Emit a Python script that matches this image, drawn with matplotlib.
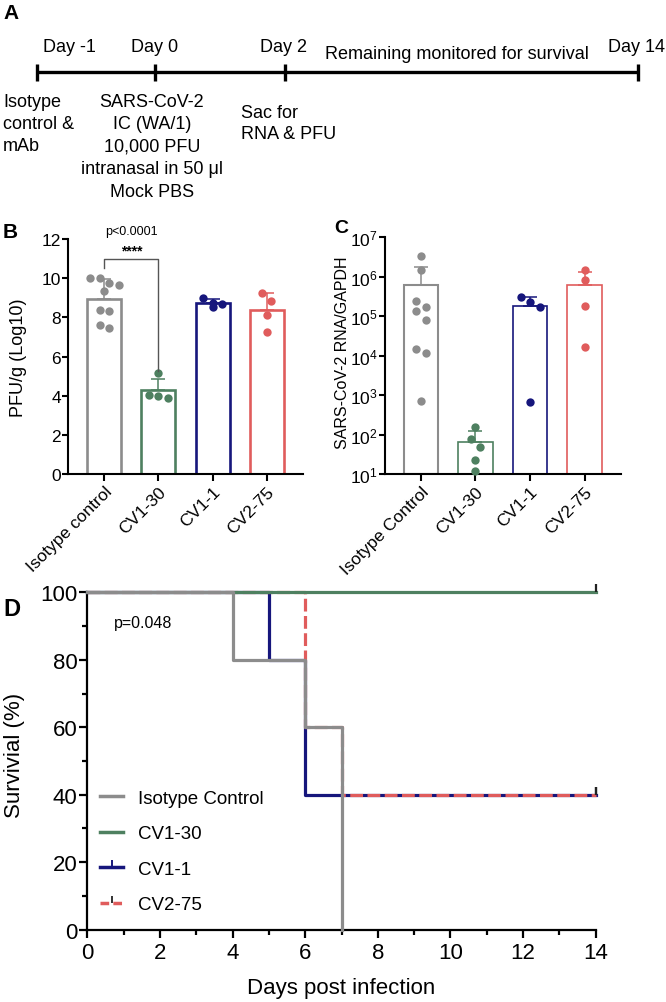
import numpy as np
import matplotlib
matplotlib.use("Agg")
import matplotlib.pyplot as plt
from matplotlib.lines import Line2D
from matplotlib.ticker import MultipleLocator, NullLocator

plt.rcParams['font.family'] = ['Liberation Sans', 'DejaVu Sans']
plt.rcParams['mathtext.fontset'] = 'custom'
plt.rcParams['mathtext.rm'] = 'Liberation Sans'
plt.rcParams['mathtext.it'] = 'Liberation Sans:italic'

# ---------------- data ----------------
timeline_days = ["Day -1", "Day 0", "Day 2", "Day 14"]
timeline_note = "Remaining monitored for survival"
note_day_m1 = ["Isotype", "control &", "mAb"]
note_day_0 = ["SARS-CoV-2", "IC (WA/1)", "10,000 PFU", "intranasal in 50 \u03bcl", "Mock PBS"]
note_day_2 = ["Sac for", "RNA & PFU"]

groups_B = ["Isotype control", "CV1-30", "CV1-1", "CV2-75"]
pfu_iso = [9.75, 9.99, 9.65, 10.03, 9.35, 8.32, 8.36, 7.44, 7.61]
pfu_cv130 = [3.90, 4.03, 3.97, 5.16]
pfu_cv11 = [9.00, 8.75, 8.68, 8.51]
pfu_cv275 = [9.23, 8.82, 8.12, 7.24]

groups_C = ["Isotype Control", "CV1-30", "CV1-1", "CV2-75"]
rna_iso = [3.4e6, 1.48e6, 2.5e5, 1.7e5, 1.35e5, 7.9e4, 1.5e4, 1.15e4, 7.2e2]
rna_cv130 = [158, 76, 47, 22, 12]
rna_cv11 = [3.0e5, 2.3e5, 1.74e5, 6.8e2]
rna_cv275 = [1.5e6, 8.3e5, 1.86e5, 1.66e4]

surv_labels = ["Isotype Control", "CV1-30", "CV1-1", "CV2-75"]
days_iso, surv_iso, end_iso = [0, 4, 6, 7], [100, 80, 60, 0], 7
days_cv130, surv_cv130, end_cv130 = [0], [100], 14
days_cv11, surv_cv11, end_cv11 = [0, 5, 6], [100, 80, 40], 14
days_cv275, surv_cv275, end_cv275 = [0, 6, 7], [100, 60, 40], 14
p_B = "p<0.0001"
stars_B = "****"
p_D = "p=0.048"

colors = ["#8c8c8c", "#4e8060", "#16167c", "#e05c5c"]

W, H = 666, 1003
fig = plt.figure(figsize=(W / 100, H / 100), dpi=100)


def rect(l, t, r, b):
    return [l / W, 1 - b / H, (r - l) / W, (b - t) / H]


def swarm(ax, xc, vals, d_px):
    """GraphPad-like layout: bin points vertically, spread each bin symmetrically."""
    vals = np.asarray(vals, dtype=float)
    pts = ax.transData.transform(np.column_stack([np.full(len(vals), xc), vals]))
    ypx = pts[:, 1]
    order = list(np.argsort(-ypx))
    offs = np.zeros(len(vals))
    bins = []
    for i in order:
        if bins and abs(ypx[bins[-1][0]] - ypx[i]) < d_px:
            bins[-1].append(i)
        else:
            bins.append([i])
    for b in bins:
        n = len(b)
        for k, i in enumerate(b):
            offs[i] = (k - (n - 1) / 2) * d_px
    sx = ax.transData.transform([(1, 1)])[0][0] - ax.transData.transform([(0, 1)])[0][0]
    return xc + offs / sx


def style_bar_axes(ax):
    for s in ["top", "right"]:
        ax.spines[s].set_visible(False)
    for s in ["left", "bottom"]:
        ax.spines[s].set_linewidth(1.5)
    ax.tick_params(axis="both", width=1.5, length=4, labelsize=12.5, pad=1)
    ax.tick_params(axis="x", length=5, pad=2)


# ---------------- panel B ----------------
axB = fig.add_axes(rect(68, 240, 303, 475))
axB.set_xlim(-0.67, 3.67)
axB.set_ylim(0, 12)
style_bar_axes(axB)
data_B = [pfu_iso, pfu_cv130, pfu_cv11, pfu_cv275]
for i, vals in enumerate(data_B):
    m, sd = np.mean(vals), np.std(vals, ddof=1)
    axB.bar(i, m, width=0.63, facecolor="white", edgecolor=colors[i], linewidth=1.9, zorder=1)
    axB.errorbar(i, m, yerr=[[0], [sd]], color=colors[i], lw=1.1, capsize=5, capthick=1.1, zorder=2)
for i, vals in enumerate(data_B):
    xs = swarm(axB, i, vals, 9.5)
    axB.scatter(xs, vals, s=36, color=colors[i], zorder=3, linewidths=0, clip_on=False)
axB.set_yticks(range(0, 13, 2))
axB.set_xticks(range(4))
axB.set_xticklabels(groups_B, rotation=45, ha="right", va="top", rotation_mode="anchor")
axB.set_ylabel("PFU/g (Log10)", fontsize=13)
axB.yaxis.set_label_coords(-0.21, 0.5)
axB.yaxis.label.set_va("center")
# significance bracket
axB.plot([0, 0, 1, 1], [10.5, 10.98, 10.98, 5.28], color="#555555", lw=1.0, clip_on=False, zorder=4)
axB.text(0.5, 11.4, stars_B, ha="center", va="center", fontsize=10, fontweight="bold")
axB.text(0.5, 12.43, p_B, ha="center", va="center", fontsize=9)

# ---------------- panel C ----------------
axC = fig.add_axes(rect(384.7, 238.3, 621.3, 475))
axC.set_yscale("log")
axC.set_xlim(-0.66, 3.67)
axC.set_ylim(10, 1e7)
style_bar_axes(axC)
data_C = [rna_iso, rna_cv130, rna_cv11, rna_cv275]
for i, vals in enumerate(data_C):
    m, sd = np.mean(vals), np.std(vals, ddof=1)
    axC.bar(i, m - 10, bottom=10, width=0.63, facecolor="white", edgecolor=colors[i],
            linewidth=1.5 if i == 0 else 1.2, zorder=1)
    axC.errorbar(i, m, yerr=[[0], [sd]], color=colors[i], lw=1.1, capsize=5, capthick=1.1, zorder=2)
for i, vals in enumerate(data_C):
    xs = swarm(axC, i, vals, 9.5)
    axC.scatter(xs, vals, s=36, color=colors[i], zorder=3, linewidths=0, clip_on=False)
axC.set_yticks([10.0 ** k for k in range(1, 8)])
axC.set_yticklabels([f"$10^{k}$" for k in range(1, 8)])
axC.yaxis.set_minor_locator(NullLocator())
axC.set_xticks(range(4))
axC.set_xticklabels(groups_C, rotation=45, ha="right", va="top", rotation_mode="anchor")
axC.set_ylabel("SARS-CoV-2 RNA/GAPDH", fontsize=11.5)
axC.yaxis.set_label_coords(-0.18, 0.515)
axC.yaxis.label.set_va("center")

# ---------------- panel D ----------------
axD = fig.add_axes(rect(87.3, 593.3, 595.7, 930.7))
axD.set_xlim(0, 14)
axD.set_ylim(0, 100)
for s in ["top", "right"]:
    axD.spines[s].set_visible(False)
for s in ["left", "bottom"]:
    axD.spines[s].set_linewidth(1.6)
axD.xaxis.set_major_locator(MultipleLocator(2))
axD.xaxis.set_minor_locator(MultipleLocator(1))
axD.yaxis.set_major_locator(MultipleLocator(20))
axD.yaxis.set_minor_locator(MultipleLocator(10))
axD.tick_params(axis="both", which="major", width=1.6, length=6, labelsize=16, pad=1)
axD.tick_params(axis="both", which="minor", width=1.6, length=3.5)
axD.tick_params(axis="x", which="major", pad=3)

surv_sets = [
    (days_iso, surv_iso, end_iso),
    (days_cv130, surv_cv130, end_cv130),
    (days_cv11, surv_cv11, end_cv11),
    (days_cv275, surv_cv275, end_cv275),
]
z_order = {2: 3, 3: 3.5, 1: 4, 0: 5}
for i in [3, 2, 1, 0]:
    d, s, e = surv_sets[i]
    xs = list(d) + [e]
    ys = list(s) + [s[-1]]
    kw = dict(color=colors[i], lw=2.3, where="post", clip_on=False, zorder=z_order[i])
    if i == 3:
        kw["linestyle"] = (0, (4.0, 1.4))
    axD.step(xs, ys, **kw)
    if e == 14:
        axD.plot([e], [s[-1]], marker=2, markersize=6, mew=1.6, color="#222222",
                 clip_on=False, zorder=6)

axD.text(1.55, 91, p_D, ha="center", va="center", fontsize=11.5)
axD.set_xlabel("Days post infection", fontsize=16)
axD.set_ylabel("Survivial (%)", fontsize=16)
axD.xaxis.set_label_coords(0.5, -0.17)
axD.xaxis.label.set_va("center")
axD.yaxis.set_label_coords(-0.144, 0.52)
axD.yaxis.label.set_va("center")

handles = [
    Line2D([], [], color=colors[0], lw=2.5),
    Line2D([], [], color=colors[1], lw=2.5),
    Line2D([], [], color=colors[2], lw=2.5, marker=2, markersize=5, mew=1.4, mec=colors[2]),
    Line2D([], [], color=colors[3], lw=2.5, linestyle=(0, (2.5, 1.2)), marker=2, markersize=5,
           mew=1.4, mec="#333333"),
]
axD.legend(handles, surv_labels, loc="upper left", bbox_to_anchor=(0.025, 0.415), frameon=False,
           fontsize=13.5, handlelength=1.25, handletextpad=0.8, labelspacing=0.98,
           borderpad=0, numpoints=1, borderaxespad=0)

# ---------------- panel A + letters (pixel overlay) ----------------
ov = fig.add_axes([0, 0, 1, 1])
ov.set_xlim(0, W)
ov.set_ylim(H, 0)
ov.axis("off")
ov.patch.set_visible(False)

tick_x = [37, 155, 285, 638]
ov.plot([tick_x[0], tick_x[-1]], [73, 73], color="black", lw=2.4, solid_capstyle="butt")
for x in tick_x:
    ov.plot([x, x], [64.5, 82], color="black", lw=2.4, solid_capstyle="butt")
label_x = [69, 155, 284, 637]
for lab, x in zip(timeline_days, label_x):
    ov.text(x, 47, lab, ha="center", va="center", fontsize=13)
ov.text(457, 54, timeline_note, ha="center", va="center", fontsize=13)
for k, t in enumerate(note_day_m1):
    ov.text(3, 102 + 22.3 * k, t, ha="left", va="center", fontsize=13)
for k, t in enumerate(note_day_0):
    ov.text(152, 102 + 22.5 * k, t, ha="center", va="center", fontsize=13)
for k, t in enumerate(note_day_2):
    ov.text(241, 113 + 21.5 * k, t, ha="left", va="center", fontsize=13)

for letter, (x, y), fs in [("A", (3, 13), 15), ("B", (3, 232), 15), ("C", (334, 228), 14), ("D", (3, 609), 17)]:
    ov.text(x, y, letter, ha="left", va="center", fontsize=fs, fontweight="bold")

fig.savefig("out.png", dpi=100)
